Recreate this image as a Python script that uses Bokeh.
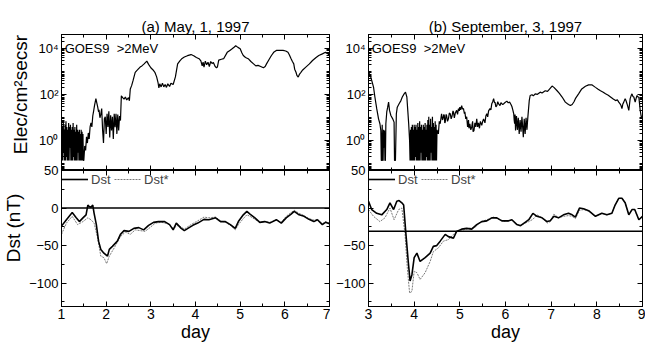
from bokeh.plotting import figure
from bokeh.models import (Range1d, FixedTicker, LinearAxis, LogAxis, CustomJSTickFormatter,
                          Span, Label, Legend, LegendItem)
from bokeh.layouts import row, column
from bokeh.embed import file_html
from bokeh.resources import INLINE

# ---------------- data ----------------
titles = ["(a) May, 1, 1997", "(b) September, 3, 1997"]
flux_label = "GOES9\u00a0 >2MeV"

# GOES9 >2MeV electron flux, event (a): (day, flux)
flux_a = [
    (1.00, 5), (1.01, 0.14), (1.02, 4), (1.03, 0.14), (1.04, 6), (1.05, 0.3), (1.06, 3), (1.07, 0.14),
    (1.08, 5), (1.09, 0.14), (1.10, 7), (1.11, 0.2), (1.12, 4), (1.13, 0.14), (1.14, 3), (1.15, 0.14),
    (1.16, 6), (1.17, 0.14), (1.18, 4), (1.19, 0.5), (1.20, 5), (1.21, 0.14), (1.22, 3), (1.23, 0.14),
    (1.24, 4), (1.25, 0.14), (1.26, 6), (1.27, 0.2), (1.28, 3), (1.29, 0.14), (1.30, 4), (1.31, 0.14),
    (1.32, 2.5), (1.33, 0.14), (1.34, 5), (1.35, 0.14), (1.36, 3), (1.37, 0.3), (1.38, 2.5), (1.39, 0.14),
    (1.40, 3), (1.41, 0.14), (1.42, 2), (1.43, 0.14), (1.44, 3), (1.45, 0.14), (1.46, 2.5), (1.47, 0.14),
    (1.48, 2), (1.49, 0.14), (1.50, 0.14),
    (1.52, 0.6), (1.54, 0.38), (1.56, 1.5), (1.58, 0.8), (1.60, 2.2), (1.62, 1.2), (1.64, 4), (1.66, 6),
    (1.68, 4), (1.70, 12), (1.72, 20), (1.74, 35), (1.76, 55), (1.77, 68), (1.79, 45), (1.81, 30),
    (1.83, 18), (1.84, 22), (1.86, 10), (1.88, 14), (1.90, 25), (1.92, 3), (1.94, 0.8), (1.96, 9),
    (1.98, 11), (2.00, 2), (2.02, 15), (2.04, 4), (2.06, 19), (2.08, 1.4), (2.10, 13), (2.12, 2.8),
    (2.14, 11), (2.16, 1.2), (2.18, 15), (2.20, 3.9), (2.22, 15), (2.24, 2), (2.26, 14), (2.28, 2.8),
    (2.30, 12), (2.32, 7.6), (2.34, 90), (2.37, 75), (2.40, 65), (2.43, 80), (2.46, 60), (2.50, 75),
    (2.52, 55), (2.54, 180), (2.57, 250), (2.60, 400), (2.65, 950), (2.70, 1200), (2.76, 1600),
    (2.80, 1800), (2.85, 2200), (2.91, 2900), (2.95, 2100), (3.00, 1500), (3.05, 1200), (3.09, 950),
    (3.13, 600), (3.16, 350), (3.18, 200), (3.20, 300), (3.23, 220), (3.26, 320), (3.29, 220),
    (3.32, 280), (3.35, 210), (3.38, 300), (3.42, 230), (3.45, 320), (3.50, 280), (3.55, 600),
    (3.60, 2200), (3.65, 3000), (3.70, 3800), (3.75, 4400), (3.82, 5000), (3.90, 5600), (3.96, 5000),
    (4.02, 4200), (4.08, 3700), (4.12, 3000), (4.15, 1800), (4.17, 2600), (4.19, 1600), (4.22, 2900),
    (4.25, 2000), (4.28, 2600), (4.31, 1700), (4.34, 2800), (4.37, 2300), (4.40, 2500), (4.44, 1700),
    (4.47, 1500), (4.49, 1600), (4.52, 3200), (4.58, 3500), (4.63, 3700), (4.71, 7000), (4.77, 8500),
    (4.82, 10000), (4.87, 12000), (4.90, 13500), (4.95, 11500), (5.00, 10000), (5.04, 6500),
    (5.07, 5100), (5.12, 4200), (5.18, 3700), (5.24, 2800), (5.30, 2200), (5.35, 1800), (5.40, 1900),
    (5.46, 1700), (5.52, 1500), (5.56, 1700), (5.59, 2200), (5.65, 3500), (5.70, 5100), (5.75, 7000),
    (5.81, 8500), (5.88, 8500), (5.96, 8500), (6.02, 8000), (6.07, 7000), (6.10, 5500), (6.14, 3700),
    (6.17, 2800), (6.20, 2200), (6.22, 1300), (6.25, 950), (6.27, 700), (6.30, 590), (6.33, 800),
    (6.36, 950), (6.40, 1200), (6.47, 1600), (6.55, 2200), (6.62, 3100), (6.70, 4200), (6.76, 5100),
    (6.84, 6000), (6.91, 7000), (6.95, 6500), (7.00, 5100),
]

# GOES9 >2MeV electron flux, event (b): (day, flux)
flux_b = [
    (3.00, 950), (3.04, 690), (3.07, 420), (3.11, 215), (3.14, 80), (3.18, 25), (3.22, 9), (3.25, 5.5),
    (3.27, 2.8), (3.28, 0.14), (3.29, 0.14), (3.30, 5), (3.31, 0.14), (3.32, 0.14), (3.33, 3), (3.34, 0.5),
    (3.35, 2.8), (3.36, 0.14), (3.37, 0.14), (3.38, 5.5), (3.40, 18), (3.42, 29), (3.44, 48), (3.46, 21),
    (3.49, 12.6), (3.53, 9), (3.56, 6.5), (3.57, 0.14), (3.59, 0.14), (3.61, 15), (3.63, 29), (3.67, 41),
    (3.71, 56), (3.74, 80), (3.78, 110), (3.81, 130), (3.84, 80), (3.86, 21), (3.88, 5.5), (3.90, 1.0),
    (3.91, 0.14),
    (3.92, 3), (3.93, 0.14), (3.94, 4), (3.95, 0.14), (3.96, 5), (3.97, 0.14), (3.98, 3), (3.99, 0.14),
    (4.00, 5), (4.01, 0.14), (4.02, 4), (4.03, 0.2), (4.04, 5), (4.05, 0.14), (4.06, 3), (4.07, 0.14),
    (4.08, 6), (4.09, 0.14), (4.10, 4), (4.11, 0.14), (4.12, 7), (4.13, 0.14), (4.14, 4), (4.15, 0.3),
    (4.16, 5), (4.17, 0.14), (4.18, 3), (4.19, 0.14), (4.20, 5), (4.21, 0.14), (4.22, 4), (4.23, 0.14),
    (4.24, 6), (4.25, 0.14), (4.26, 3), (4.27, 0.2), (4.28, 5), (4.29, 0.14), (4.30, 8), (4.31, 0.14),
    (4.32, 11), (4.33, 0.14), (4.34, 5), (4.35, 0.14), (4.36, 9), (4.37, 0.3), (4.38, 4), (4.39, 0.14),
    (4.40, 11), (4.41, 0.14), (4.42, 6), (4.43, 0.14), (4.44, 4), (4.45, 0.14), (4.46, 7), (4.47, 0.14),
    (4.48, 5), (4.49, 0.14), (4.50, 3),
    (4.53, 2), (4.55, 7), (4.57, 5.5), (4.60, 15), (4.62, 8), (4.63, 9), (4.65, 14), (4.66, 12.6),
    (4.67, 6), (4.68, 6.5), (4.70, 14), (4.71, 12.6), (4.73, 7), (4.75, 9), (4.77, 16), (4.79, 15),
    (4.81, 9), (4.83, 12), (4.85, 20), (4.86, 18), (4.88, 10), (4.90, 16), (4.93, 21), (4.95, 14),
    (4.97, 25), (4.99, 20), (5.00, 29), (5.02, 22), (5.04, 34), (5.06, 24), (5.08, 25), (5.10, 15),
    (5.11, 18), (5.13, 9), (5.15, 11), (5.17, 4), (5.19, 8), (5.20, 3.5), (5.22, 5.5), (5.24, 3),
    (5.26, 4), (5.28, 7), (5.29, 2.5), (5.31, 2.8), (5.33, 6), (5.35, 4), (5.37, 9), (5.39, 4),
    (5.41, 6), (5.43, 3.5), (5.45, 7), (5.48, 4.7), (5.50, 7), (5.52, 9), (5.55, 6), (5.57, 12),
    (5.59, 15), (5.61, 11), (5.63, 20), (5.66, 25), (5.68, 22), (5.70, 41), (5.72, 50), (5.74, 68),
    (5.76, 45), (5.77, 48), (5.79, 30), (5.81, 34), (5.83, 50), (5.85, 40), (5.88, 34), (5.90, 45),
    (5.92, 41), (5.94, 38), (5.96, 41), (5.99, 46), (6.03, 53), (6.06, 45), (6.09, 48), (6.12, 38),
    (6.14, 31), (6.16, 22), (6.18, 15), (6.19, 8), (6.20, 5.5), (6.21, 14), (6.22, 2.8), (6.24, 12),
    (6.26, 3), (6.28, 10), (6.30, 2.0), (6.32, 8), (6.34, 2.5), (6.36, 11), (6.38, 3), (6.39, 1.45),
    (6.41, 9), (6.43, 2), (6.45, 10), (6.47, 3), (6.48, 6), (6.49, 11), (6.52, 56), (6.54, 93),
    (6.58, 100), (6.61, 90), (6.65, 110), (6.70, 105), (6.76, 130), (6.80, 120), (6.87, 150),
    (6.92, 140), (6.95, 165), (7.02, 240), (7.06, 210), (7.13, 150), (7.18, 115), (7.24, 80),
    (7.31, 48), (7.35, 42), (7.38, 38), (7.42, 34), (7.46, 38), (7.50, 50), (7.53, 68), (7.60, 110),
    (7.67, 180), (7.75, 235), (7.82, 270), (7.89, 270), (7.97, 210), (8.02, 180), (8.08, 150),
    (8.14, 130), (8.19, 110), (8.25, 95), (8.30, 80), (8.36, 65), (8.41, 56), (8.45, 60), (8.48, 48),
    (8.51, 40), (8.53, 34), (8.55, 25), (8.57, 40), (8.59, 48), (8.62, 68), (8.64, 55), (8.66, 41),
    (8.68, 30), (8.70, 21), (8.73, 68), (8.75, 90), (8.77, 110), (8.79, 85), (8.81, 80), (8.84, 48),
    (8.86, 70), (8.88, 93), (8.90, 80), (8.92, 80), (8.95, 21), (8.97, 12), (8.99, 9),
]

# Dst and pressure-corrected Dst* (nT), event (a)
dst_a = [
    (1.00, -24), (1.11, -15.5), (1.24, -6), (1.33, -13), (1.40, -18), (1.48, -13), (1.55, -9),
    (1.59, 4), (1.62, 2), (1.66, 1), (1.70, 4), (1.73, -7), (1.78, -22), (1.83, -44), (1.88, -55),
    (1.95, -60), (2.03, -64), (2.07, -55), (2.14, -51), (2.25, -44), (2.32, -35), (2.40, -30),
    (2.51, -31), (2.62, -27), (2.73, -26), (2.84, -29), (2.95, -23), (3.06, -19), (3.17, -18),
    (3.31, -18), (3.42, -22), (3.50, -29), (3.57, -20), (3.68, -27), (3.75, -30), (3.83, -27),
    (3.94, -23), (4.05, -20), (4.19, -15), (4.30, -15.5), (4.45, -13), (4.56, -18), (4.67, -18),
    (4.78, -22), (4.89, -27), (4.96, -18), (5.07, -9), (5.15, -4.4), (5.22, -8), (5.33, -13),
    (5.44, -19), (5.55, -18), (5.66, -20), (5.81, -15.5), (5.92, -20), (6.03, -13), (6.14, -8),
    (6.21, -4.4), (6.32, -9), (6.43, -11), (6.54, -15), (6.65, -18), (6.73, -15.5), (6.84, -22),
    (6.91, -19), (7.00, -21),
]
dststar_a = [
    (1.00, -35), (1.11, -20), (1.24, -11), (1.36, -22), (1.48, -18), (1.59, -13), (1.66, -15.5),
    (1.73, -20), (1.81, -40), (1.88, -64), (1.95, -66), (2.01, -74), (2.07, -64), (2.18, -53),
    (2.32, -38), (2.43, -32), (2.54, -35), (2.65, -29), (2.76, -30), (2.87, -31), (2.98, -26),
    (3.10, -20), (3.24, -19), (3.39, -21), (3.50, -27), (3.61, -23), (3.75, -28), (3.90, -22),
    (4.05, -17), (4.19, -12), (4.30, -13), (4.45, -12), (4.56, -17), (4.67, -19), (4.78, -23),
    (4.89, -29), (4.96, -22), (5.07, -14), (5.15, -9), (5.22, -11), (5.33, -15), (5.44, -19),
    (5.55, -18), (5.66, -19), (5.81, -16), (5.92, -19), (6.03, -11), (6.14, -6), (6.21, -3),
    (6.32, -7), (6.43, -10), (6.54, -14), (6.65, -16), (6.73, -15), (6.84, -21), (6.91, -18),
    (7.00, -20),
]

# Dst and Dst* (nT), event (b)
dst_b = [
    (3.00, 9), (3.07, -2), (3.18, -7), (3.29, -9), (3.40, -2), (3.47, 7), (3.55, -2), (3.62, 9),
    (3.67, 10), (3.73, 7), (3.77, 4), (3.82, -35), (3.87, -71), (3.91, -97), (3.95, -89), (4.00, -66),
    (4.06, -60), (4.13, -71), (4.24, -66), (4.35, -60), (4.42, -51), (4.49, -50), (4.57, -44),
    (4.68, -35), (4.75, -38), (4.86, -40), (4.93, -31), (5.04, -28), (5.15, -27), (5.26, -28),
    (5.37, -22), (5.48, -18), (5.59, -17), (5.70, -13), (5.81, -13), (5.92, -17), (6.07, -17),
    (6.14, -15.5), (6.25, -22), (6.33, -23.5), (6.43, -19), (6.51, -15.5), (6.60, -7), (6.69, -11),
    (6.80, -13), (6.91, -18), (6.98, -17), (7.06, -11), (7.16, -13), (7.27, -9), (7.38, -7),
    (7.46, -9), (7.53, -12), (7.62, 0), (7.71, -1), (7.82, -3.5), (7.97, -11), (8.11, -7),
    (8.22, -9), (8.33, -7), (8.40, 4), (8.48, 13), (8.55, 13), (8.62, 7), (8.70, -9), (8.77, -2),
    (8.83, -2), (8.92, -15.5), (9.00, -11),
]
dststar_b = [
    (3.00, -2), (3.11, -11), (3.25, -18), (3.36, -13), (3.47, 0), (3.56, -15.5), (3.66, -2),
    (3.73, 0), (3.80, -35), (3.85, -80), (3.90, -113), (3.95, -111), (4.00, -84), (4.06, -86),
    (4.13, -95), (4.24, -86), (4.35, -71), (4.42, -58), (4.53, -53), (4.64, -44), (4.75, -42),
    (4.86, -35), (4.97, -30), (5.08, -29), (5.19, -27), (5.33, -26), (5.44, -19), (5.59, -15.5),
    (5.74, -12), (5.88, -15.5), (5.99, -18), (6.07, -17), (6.14, -16), (6.25, -22), (6.33, -23),
    (6.43, -20), (6.51, -18), (6.60, -15), (6.69, -9), (6.80, -13), (6.91, -20), (6.98, -18),
    (7.06, -8), (7.16, -13), (7.27, -11), (7.38, -10), (7.46, -11), (7.53, -14), (7.62, -3),
    (7.71, -2), (7.82, -4), (7.97, -11), (8.11, -7), (8.22, -9), (8.33, -7), (8.40, 4), (8.48, 13),
    (8.55, 13), (8.62, 7), (8.70, -9), (8.77, -2), (8.83, -2), (8.92, -15.5), (9.00, -11),
]

# reference levels (nT)
ref_level_a = 0
ref_level_b = -31

day_ranges = [(1, 7), (3, 9)]
flux_ticks = [1, 100, 10000]
flux_tick_labels = {1: "10\u2070", 100: "10\u00b2", 10000: "10\u2074"}
dst_ticks = [-100, -50, 0, 50]
flux_axis_title = "\u00a0\u00a0\u00a0Elec/cm\u00b2secsr"
dst_axis_title = "\u00a0\u00a0\u00a0\u00a0Dst (nT)"

# ---------------- styling ----------------
FONT = "Liberation Sans"
OVERLAP = 8  # px of transparent top border on the Dst panels (room for the "50" label)


def unzip(pairs):
    xs, ys = zip(*pairs)
    return list(xs), list(ys)


def style_axis(ax, labels=True, size="13px"):
    ax.major_tick_in = 5
    ax.major_tick_out = 0
    ax.minor_tick_in = 3
    ax.minor_tick_out = 0
    ax.axis_line_color = "black"
    ax.major_tick_line_color = "black"
    ax.minor_tick_line_color = "black"
    ax.major_label_text_font = FONT
    ax.major_label_text_font_size = size
    ax.major_label_text_color = "black"
    ax.axis_label_text_font = FONT
    ax.axis_label_text_font_style = "normal"
    ax.axis_label_text_color = "black"
    if not labels:
        ax.formatter = CustomJSTickFormatter(code="return ''")
        ax.major_label_standoff = 0
    else:
        ax.major_label_standoff = 3


def day_ticker(lo, hi):
    return FixedTicker(ticks=list(range(lo, hi + 1)),
                       minor_ticks=[lo + 0.5 * k for k in range(2 * (hi - lo) + 1)])


log_minor = [m * 10.0 ** e for e in range(-2, 5) for m in range(1, 10)]


def make_top(idx, width, bl, br, ylabel):
    lo, hi = day_ranges[idx]
    p = figure(width=width, height=170, x_range=Range1d(lo, hi),
               y_range=Range1d(10 ** -1.29, 10 ** 4.62), y_axis_type="log",
               output_backend="svg", toolbar_location=None,
               min_border_left=bl, min_border_right=br, min_border_top=34, min_border_bottom=0)
    p.xgrid.visible = False
    p.ygrid.visible = False
    p.outline_line_color = "black"
    p.background_fill_color = "white"
    p.border_fill_color = "white"
    p.title.text = titles[idx]
    p.title.align = "center"
    p.title.vertical_align = "bottom"
    p.title.text_font = FONT
    p.title.text_font_size = "15px"
    p.title.text_font_style = "normal"
    p.title.text_color = "black"
    p.title.standoff = 0

    yt = FixedTicker(ticks=flux_ticks, minor_ticks=log_minor)
    ya = p.yaxis[0]
    ya.ticker = yt
    ya.major_label_overrides = flux_tick_labels
    style_axis(ya)
    if ylabel:
        ya.axis_label = flux_axis_title
        ya.axis_label_text_font_size = "19px"
        ya.axis_label_standoff = 4
    ra = LogAxis(ticker=FixedTicker(ticks=flux_ticks, minor_ticks=log_minor))
    style_axis(ra, labels=False)
    p.add_layout(ra, "right")

    xa = p.xaxis[0]
    xa.ticker = day_ticker(lo, hi)
    style_axis(xa, labels=False)
    ta = LinearAxis(ticker=day_ticker(lo, hi))
    style_axis(ta, labels=False, size="6px")
    p.add_layout(ta, "above")

    t, f = unzip(flux_a if idx == 0 else flux_b)
    p.line(t, f, line_color="black", line_width=1.2)
    p.add_layout(Label(x=lo + 0.07, y=10 ** 4, text=flux_label, text_font=FONT,
                       text_font_size="13px", text_baseline="middle", text_color="black"))
    return p


def make_bottom(idx, width, bl, br, ylabel):
    lo, hi = day_ranges[idx]
    p = figure(width=width, height=174 + OVERLAP, x_range=Range1d(lo, hi), y_range=Range1d(-131, 50),
               output_backend="svg", toolbar_location=None,
               min_border_left=bl, min_border_right=br, min_border_top=OVERLAP, min_border_bottom=38,
               margin=(-OVERLAP, 0, 0, 0))
    p.xgrid.visible = False
    p.ygrid.visible = False
    p.outline_line_color = "black"
    p.background_fill_color = "white"
    p.border_fill_alpha = 0

    ya = p.yaxis[0]
    ya.ticker = FixedTicker(ticks=dst_ticks, minor_ticks=[-125, -75, -25, 25])
    style_axis(ya)
    if ylabel:
        ya.axis_label = dst_axis_title
        ya.axis_label_text_font_size = "19px"
        ya.axis_label_standoff = 2
    ra = LinearAxis(ticker=FixedTicker(ticks=dst_ticks, minor_ticks=[-125, -75, -25, 25]))
    style_axis(ra, labels=False)
    p.add_layout(ra, "right")

    xa = p.xaxis[0]
    xa.ticker = day_ticker(lo, hi)
    style_axis(xa, size="14px")
    xa.major_label_standoff = 2
    xa.axis_label = "day"
    xa.axis_label_text_font_size = "18px"
    xa.axis_label_standoff = 0
    ta = LinearAxis(ticker=day_ticker(lo, hi))
    style_axis(ta, labels=False)
    p.add_layout(ta, "above")

    level = ref_level_a if idx == 0 else ref_level_b
    p.add_layout(Span(location=level, dimension="width", line_color="black", line_width=1.5))

    ts, vs = unzip(dststar_a if idx == 0 else dststar_b)
    td, vd = unzip(dst_a if idx == 0 else dst_b)
    r2 = p.line(ts, vs, line_color="#7a7a7a", line_width=1, line_dash="2 1")
    r1 = p.line(td, vd, line_color="black", line_width=1.6)

    leg = Legend(items=[LegendItem(label="Dst", renderers=[r1]),
                        LegendItem(label="Dst*", renderers=[r2])],
                 orientation="horizontal", location="top_left")
    leg.border_line_color = None
    leg.background_fill_alpha = 0
    leg.margin = 0
    leg.padding = 0
    leg.spacing = 3
    leg.glyph_width = 27
    leg.glyph_height = 18
    leg.label_standoff = 3
    leg.label_text_font = FONT
    leg.label_text_font_size = "13px"
    leg.label_height = 18
    p.add_layout(leg)
    return p


top_a = make_top(0, 330, 57, 1, True)
bot_a = make_bottom(0, 330, 57, 1, True)
top_b = make_top(1, 315, 38, 3, False)
bot_b = make_bottom(1, 315, 38, 3, False)

layout = row(column(top_a, bot_a, spacing=0), column(top_b, bot_b, spacing=0), spacing=0)

open("out.html", "w").write(file_html(layout, INLINE))
